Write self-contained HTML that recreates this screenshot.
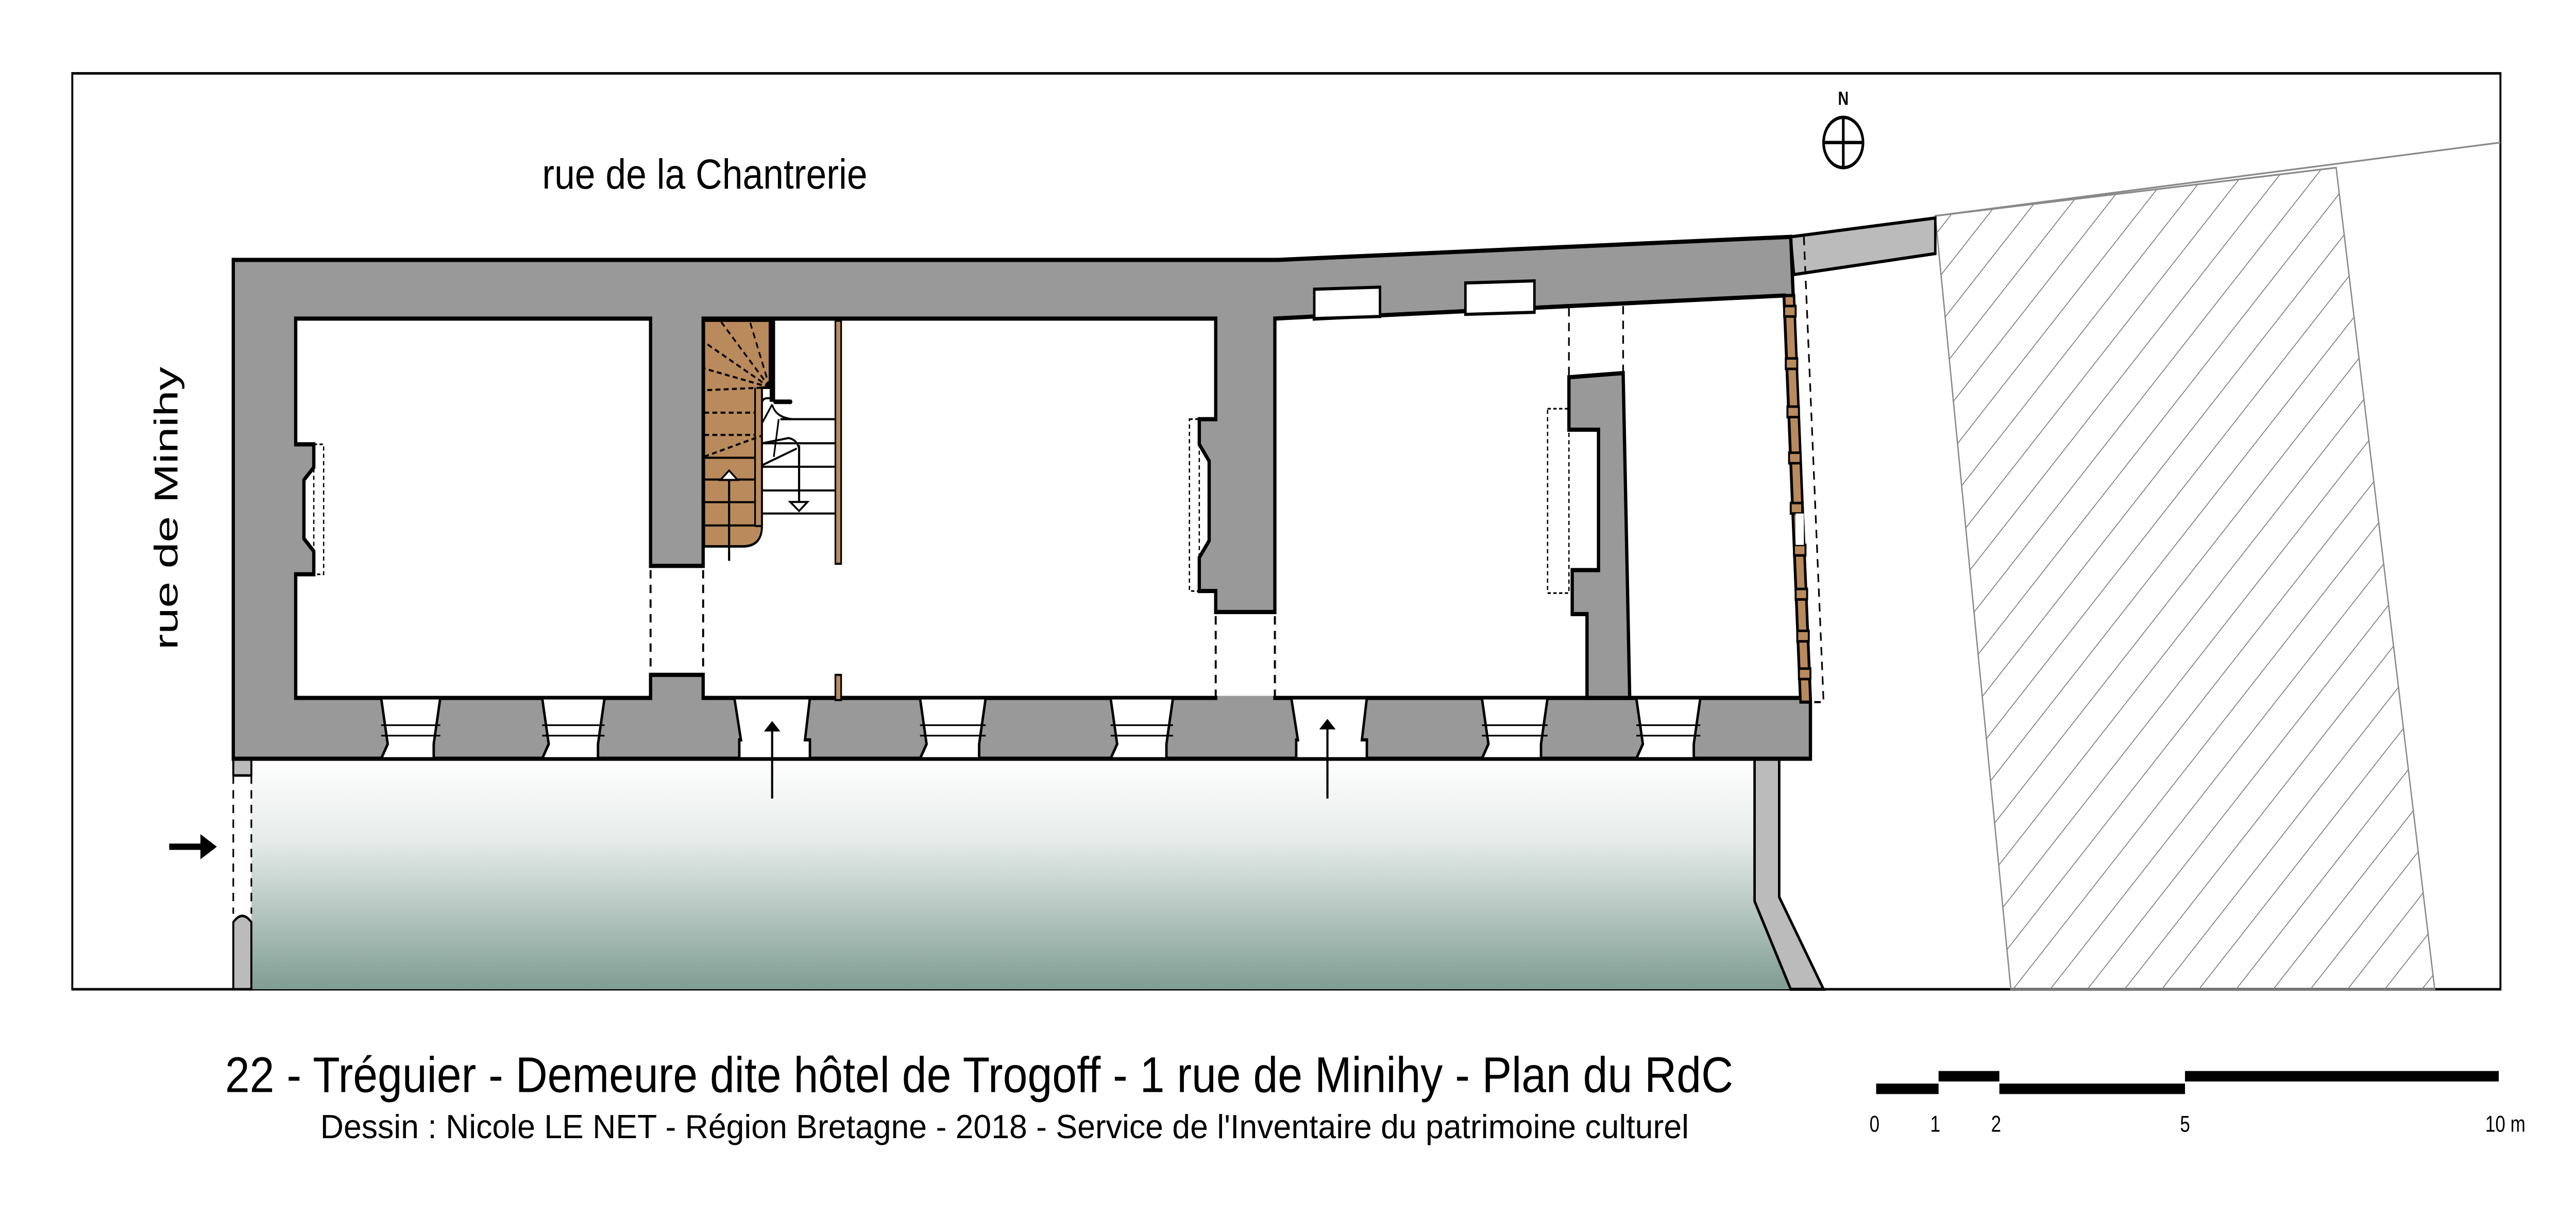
<!DOCTYPE html>
<html><head><meta charset="utf-8"><style>html,body{margin:0;padding:0;background:#fff;width:100%;height:100%;overflow:hidden}svg{display:block;width:100vw;height:100vh}</style></head>
<body>
<svg viewBox="0 0 1568 580.66" preserveAspectRatio="none" xmlns="http://www.w3.org/2000/svg" font-family="Liberation Sans, DejaVu Sans, sans-serif">
<defs>
<linearGradient id="cg" x1="0" y1="0" x2="0" y2="1"><stop offset="0" stop-color="#ffffff"/><stop offset="0.35" stop-color="#e6ecea"/><stop offset="1" stop-color="#7f9d93"/></linearGradient>
<pattern id="hp" width="16" height="16" patternUnits="userSpaceOnUse" patternTransform="rotate(45)"><line x1="0" y1="0" x2="0" y2="16" stroke="#666" stroke-width="0.8"/></pattern>
</defs>
<rect x="44" y="35" width="1478" height="437" fill="#fff" stroke="#000" stroke-width="1.2"/>
<polygon points="1178,103 1422,80 1482,472 1224,472" fill="url(#hp)" stroke="#888" stroke-width="0.8"/>
<line x1="1178" y1="103" x2="1522" y2="68" stroke="#888" stroke-width="0.8"/>
<polygon points="153,362 1068,362 1068,430 1090,472 153,472" fill="url(#cg)"/>
<polygon points="1068,362 1083,362 1083,428 1110,472 1090,472 1068,430" fill="#bbb" stroke="#000" stroke-width="1.5"/>
<rect x="142" y="362" width="11" height="8" fill="#bbb" stroke="#000" stroke-width="1.2"/>
<path d="M142,472 V440 Q147.5,434 153,440 V472 Z" fill="#bbb" stroke="#000" stroke-width="1.2"/>
<line x1="142" y1="370" x2="142" y2="436" stroke="#000" stroke-width="1" stroke-dasharray="4,3"/>
<line x1="153" y1="370" x2="153" y2="436" stroke="#000" stroke-width="1" stroke-dasharray="4,3"/>
<line x1="103" y1="404" x2="124" y2="404" stroke="#000" stroke-width="3"/>
<polygon points="122,398 132,404 122,410" fill="#000"/>
<polygon points="1090,113 1178,104 1178,121 1092,131" fill="#bbb" stroke="#000" stroke-width="1.5"/>
<polygon points="142,124 778,124 1090,113 1102,335 1102,362 142,362" fill="#999" stroke="#000" stroke-width="2"/>
<polygon points="180,152 396,152 396,333 180,333 180,274 191,274 191,263 185,257 185,229 191,223 191,212 180,212" fill="#fff" stroke="#000" stroke-width="2"/>
<rect x="191" y="212" width="6" height="62" fill="none" stroke="#000" stroke-width="0.8" stroke-dasharray="2,1.5"/>
<polygon points="428,152 740,152 740,200 730,200 730,212 736,220 736,258 730,266 730,282 740,282 740,333 428,333" fill="#fff" stroke="#000" stroke-width="2"/>
<rect x="724" y="200" width="6" height="82" fill="none" stroke="#000" stroke-width="0.8" stroke-dasharray="2,1.5"/>
<polygon points="776,152 800,151 800,152 1086,141 1096,333 776,333" fill="#fff" stroke="#000" stroke-width="2"/>
<polygon points="800,138 840,137 840,151 800,152" fill="#fff" stroke="#000" stroke-width="1.5"/>
<polygon points="892,135 934,134 934,149 892,150" fill="#fff" stroke="#000" stroke-width="1.5"/>
<polygon points="955,180 988,178 992,333 966,333 966,293 957,293 957,272 973,272 973,205 955,205" fill="#999" stroke="#000" stroke-width="2"/>
<rect x="942" y="195" width="13" height="88" fill="none" stroke="#000" stroke-width="0.8" stroke-dasharray="2,1.5"/>
<line x1="955" y1="147" x2="955" y2="180" stroke="#000" stroke-width="1" stroke-dasharray="4,3"/>
<line x1="988" y1="146" x2="988" y2="178" stroke="#000" stroke-width="1" stroke-dasharray="4,3"/>
<rect x="395" y="271" width="35" height="50" fill="#fff"/>
<line x1="396" y1="270" x2="428" y2="270" stroke="#000" stroke-width="2"/>
<line x1="396" y1="322" x2="428" y2="322" stroke="#000" stroke-width="2"/>
<line x1="396" y1="272" x2="396" y2="320" stroke="#000" stroke-width="1.2" stroke-dasharray="4,3"/>
<line x1="428" y1="272" x2="428" y2="320" stroke="#000" stroke-width="1.2" stroke-dasharray="4,3"/>
<rect x="739" y="293" width="38" height="39" fill="#fff"/>
<line x1="740" y1="292" x2="776" y2="292" stroke="#000" stroke-width="2"/>
<line x1="740" y1="294" x2="740" y2="333" stroke="#000" stroke-width="1.2" stroke-dasharray="4,3"/>
<line x1="776" y1="294" x2="776" y2="333" stroke="#000" stroke-width="1.2" stroke-dasharray="4,3"/>
<polygon points="1086,141 1092,141 1102,335 1096,335" fill="#b98a5c" stroke="#000" stroke-width="1.5"/>
<g fill="#b98a5c" stroke="#000" stroke-width="1.2">
<rect x="1086" y="146" width="7" height="5"/><rect x="1087" y="171" width="7" height="5"/><rect x="1088" y="194" width="7" height="5"/><rect x="1089" y="216" width="7" height="5"/><rect x="1090" y="240" width="7" height="5"/>
<rect x="1092" y="260" width="7" height="5"/><rect x="1093" y="281" width="7" height="5"/><rect x="1094" y="301" width="7" height="5"/><rect x="1095" y="319" width="7" height="5"/>
</g>
<rect x="1093" y="245" width="5" height="15" fill="#fff"/>
<polyline points="1098,113 1110,335 1103,335" fill="none" stroke="#000" stroke-width="1" stroke-dasharray="4,3"/>
<g fill="#fff" stroke="#000" stroke-width="1.5">
<polygon points="232,333 268,333 264,355 264,362 232,362 236,355"/>
<polygon points="330,333 368,333 364,355 364,362 330,362 334,355"/>
<polygon points="560,333 600,333 596,355 596,362 560,362 564,355"/>
<polygon points="676,333 714,333 710,355 710,362 676,362 680,355"/>
<polygon points="902,333 942,333 938,355 938,362 902,362 906,355"/>
<polygon points="996,333 1035,333 1031,355 1031,362 996,362 1000,355"/>
<polygon points="447,333 493,333 490,353 493,353 493,362 450,362 450,353 451,353"/>
<polygon points="786,333 832,333 829,353 832,353 832,362 789,362 789,353 790,353"/>
</g>
<g stroke="#000" stroke-width="0.8">
<line x1="232" y1="346" x2="268" y2="346"/><line x1="232" y1="351" x2="268" y2="351"/>
<line x1="330" y1="346" x2="368" y2="346"/><line x1="330" y1="351" x2="368" y2="351"/>
<line x1="560" y1="346" x2="600" y2="346"/><line x1="560" y1="351" x2="600" y2="351"/>
<line x1="676" y1="346" x2="714" y2="346"/><line x1="676" y1="351" x2="714" y2="351"/>
<line x1="902" y1="346" x2="942" y2="346"/><line x1="902" y1="351" x2="942" y2="351"/>
<line x1="996" y1="346" x2="1035" y2="346"/><line x1="996" y1="351" x2="1035" y2="351"/>
</g>
<line x1="470" y1="381" x2="470" y2="348" stroke="#000" stroke-width="1.3"/>
<polygon points="465,349 470,344 475,349" fill="#000"/>
<line x1="808" y1="381" x2="808" y2="347" stroke="#000" stroke-width="1.3"/>
<polygon points="803,348 808,343 813,348" fill="#000"/>
<path d="M428.6,153 H468.5 V185 H463.8 V251 Q463.8,260.7 452,260.7 H428.6 Z" fill="#b98a5c" stroke="#000" stroke-width="1.2"/>
<line x1="459.6" y1="185" x2="459.6" y2="251" stroke="#000" stroke-width="1"/>
<line x1="459.6" y1="251" x2="463.8" y2="251" stroke="#000" stroke-width="1"/>
<g stroke="#000" stroke-width="1" stroke-dasharray="3,2">
<line x1="468.5" y1="184.8" x2="438.4" y2="153"/><line x1="468.5" y1="184.8" x2="456.3" y2="153"/>
<line x1="468.5" y1="184.8" x2="428.6" y2="163.2"/><line x1="468.5" y1="184.8" x2="428.6" y2="175.8"/>
<line x1="468.5" y1="184.8" x2="428.6" y2="186.2"/><line x1="428.6" y1="196.9" x2="459.6" y2="196.9"/>
<line x1="428.6" y1="207.5" x2="459.6" y2="207.5"/><line x1="428.6" y1="217.9" x2="463.3" y2="208"/>
<line x1="463.8" y1="188" x2="463.8" y2="200"/>
</g>
<g stroke="#000" stroke-width="1">
<line x1="428.6" y1="218.4" x2="459.6" y2="218.4"/><line x1="428.6" y1="228.8" x2="459.6" y2="228.8"/>
<line x1="428.6" y1="239.6" x2="459.6" y2="239.6"/><line x1="428.6" y1="250.7" x2="459.6" y2="250.7"/>
<line x1="475" y1="200" x2="508" y2="200"/><line x1="463.8" y1="211.5" x2="508" y2="211.5"/>
<line x1="463.8" y1="222.7" x2="508" y2="222.7"/><line x1="463.8" y1="234" x2="508" y2="234"/>
<line x1="463.8" y1="245" x2="508" y2="245"/>
<line x1="470" y1="193" x2="463.8" y2="202"/>
<path d="M470,193 Q472,199 482,200" fill="none"/>
<line x1="474" y1="200" x2="471" y2="218"/>
<path d="M463.8,211.5 L480,209 Q486,210 486.4,215 V240" fill="none"/>
<line x1="463.8" y1="222" x2="485" y2="214"/>
<path d="M463.8,188 V193 Q463.8,190 467,190 H470" fill="none"/>
</g>
<rect x="468.5" y="153" width="3.3" height="38.7" fill="#000"/>
<line x1="471.8" y1="191.7" x2="481.2" y2="191.7" stroke="#000" stroke-width="2.2" stroke-linecap="round"/>
<rect x="508.5" y="153" width="3.5" height="116" fill="#b98a5c" stroke="#000" stroke-width="1"/>
<rect x="508.5" y="322" width="3.5" height="12" fill="#b98a5c" stroke="#000" stroke-width="1"/>
<line x1="443.8" y1="267.6" x2="443.8" y2="227" stroke="#000" stroke-width="1.3"/>
<polygon points="438.5,229 443.8,224.5 449,229" fill="#fff" stroke="#000" stroke-width="1"/>
<line x1="486.4" y1="212.4" x2="486.4" y2="241" stroke="#000" stroke-width="1.3"/>
<polygon points="481,239.5 486.4,243.8 491.5,239.5" fill="#fff" stroke="#000" stroke-width="1"/>
<text x="1122" y="50" font-size="9" text-anchor="middle" font-weight="bold">N</text>
<circle cx="1122" cy="68" r="12" fill="#fff" stroke="#000" stroke-width="1.6"/>
<line x1="1122" y1="56" x2="1122" y2="80" stroke="#000" stroke-width="1.6"/>
<line x1="1110" y1="68" x2="1134" y2="68" stroke="#000" stroke-width="1.6"/>
<text x="330" y="90" font-size="20" textLength="198" lengthAdjust="spacingAndGlyphs">rue de la Chantrerie</text>
<text transform="translate(108,242.5) rotate(-90)" font-size="20" text-anchor="middle" textLength="135" lengthAdjust="spacingAndGlyphs">rue de Minihy</text>
<text x="137" y="521" font-size="24" textLength="918" lengthAdjust="spacingAndGlyphs">22 - Tréguier - Demeure dite hôtel de Trogoff - 1 rue de Minihy - Plan du RdC</text>
<text x="195" y="543" font-size="16" textLength="833" lengthAdjust="spacingAndGlyphs">Dessin : Nicole LE NET - Région Bretagne - 2018 - Service de l'Inventaire du patrimoine culturel</text>
<rect x="1142" y="517" width="38" height="5" fill="#000"/>
<rect x="1180" y="511" width="37" height="5" fill="#000"/>
<rect x="1217" y="517" width="113" height="5" fill="#000"/>
<rect x="1330" y="511" width="191" height="5" fill="#000"/>
<g font-size="11" text-anchor="middle">
<text x="1141" y="540">0</text><text x="1178" y="540">1</text><text x="1215" y="540">2</text><text x="1330" y="540">5</text><text x="1525" y="540">10 m</text>
</g>
</svg>
</body></html>
